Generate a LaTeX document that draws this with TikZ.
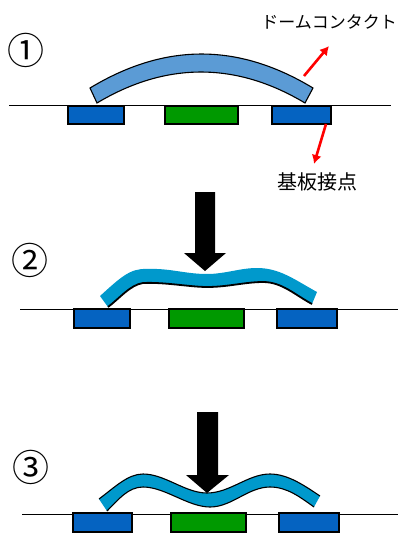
\documentclass[tikz,border=0pt]{standalone}
\usepackage{fontspec}
\setmainfont{Noto Sans CJK JP}
\usepackage{xcolor}
\usetikzlibrary{arrows.meta, positioning}
\definecolor{padblue}{HTML}{0563C1}
\definecolor{padgreen}{HTML}{009900}
\definecolor{domeblue}{HTML}{5B9BD5}
\definecolor{domecyan}{HTML}{0099CC}
\def\toptwo{(100,296) .. controls (120,278) and (130,268) .. (147,269) .. controls (170,268) and (185,274) .. (207,274) .. controls (225,274) and (240,268) .. (257,268) .. controls (280,268) and (295,280) .. (317,292)}
\def\bottwo{(108,307) .. controls (120,298) and (130,285) .. (143,283) .. controls (165,282) and (190,287) .. (207,287) .. controls (228,287) and (245,282) .. (263,282) .. controls (282,282) and (295,295) .. (312,304)}
\def\topthree{(99,499) .. controls (115,487) and (128,474) .. (143,474) .. controls (165,474) and (185,493) .. (207,493) .. controls (230,493) and (248,474) .. (270,474) .. controls (288,474) and (305,486) .. (320,496)}
\def\botthree{(107,511) .. controls (118,500) and (128,487) .. (143,487) .. controls (165,487) and (188,507) .. (210,507) .. controls (232,507) and (248,487) .. (270,487) .. controls (287,487) and (300,497) .. (314,507)}
\tikzset{
  baseline line/.style={black, line width=1pt},
  padbox/.style={draw=black, line width=1.1pt, fill=padblue},
  centerbox/.style={draw=black, line width=1.1pt, fill=padgreen},
  redarrow/.style={red, line width=2.6pt, -{Latex[length=9pt,width=10pt]}},
  pressarrow/.style={fill=black, draw=none},
  numlabel/.style={inner sep=0pt, font=\fontsize{37}{37}\selectfont},
  caption/.style={inner sep=0pt, font=\fontsize{17}{17}\selectfont}
}
\begin{document}
\begin{tikzpicture}[x=1pt, y=-1pt]
  \useasboundingbox (0,0) rectangle (398,533);
  % state 1
  \node[numlabel] (num1) at (26,50) {①};
  \draw[baseline line] (9,105.5) -- (391,105.5);
  \foreach \a/\b in {68/124, 272/331}
    \draw[padbox] (\a,106) rectangle (\b,124);
  \draw[centerbox] (165,106) rectangle (238,124);
  \draw[draw=black, line width=1.1pt, fill=domeblue] (90,88) .. controls (165,42.7) and (238,42.7) .. (313,88)
    -- (305,103) .. controls (236,61.7) and (166,61.7) .. (97,103) -- cycle;
  \node[caption] (dome) at (329,22) {ドームコンタクト};
  \node[caption, font=\fontsize{20}{20}\selectfont] (board) at (317,182) {基板接点};
  \coordinate (domeEnd) at (304,76);
  \coordinate (domeTip) at (329,46);
  \coordinate (padEnd) at (326,124);
  \coordinate (padTip) at (314,164);
  \draw[redarrow] (domeEnd) -- (domeTip);
  \draw[redarrow] (padEnd) -- (padTip);
  % state 2
  \node[numlabel] (num2) at (30,260) {②};
  \draw[baseline line] (20,309) -- (398,309);
  \foreach \a/\b in {74/130, 277/337}
    \draw[padbox] (\a,309) rectangle (\b,328);
  \draw[centerbox] (169,309) rectangle (244,328);
  \fill[pressarrow] (195,192) -- (215,192) -- (215,253) -- (226,253) -- (205,271) -- (184,253) -- (195,253) -- cycle;
  \fill[domecyan] \toptwo -- (312,304) .. controls (295,295) and (282,282) .. (263,282) .. controls (245,282) and (228,287) .. (207,287) .. controls (190,287) and (165,282) .. (143,283) .. controls (130,285) and (120,298) .. (108,307) -- cycle;
  \draw[black, line width=1.8pt] \bottwo;
  % state 3
  \node[numlabel] (num3) at (31,467) {③};
  \draw[baseline line] (22,514.5) -- (398,514.5);
  \foreach \a/\b in {73/132, 279/339}
    \draw[padbox] (\a,513) rectangle (\b,532);
  \draw[centerbox] (171,513) rectangle (246,532);
  \fill[pressarrow] (197,412) -- (218,412) -- (218,475) -- (229,475) -- (207,493) -- (186,475) -- (197,475) -- cycle;
  \fill[domecyan] \topthree -- (314,507) .. controls (300,497) and (287,487) .. (270,487) .. controls (248,487) and (232,507) .. (210,507) .. controls (188,507) and (165,487) .. (143,487) .. controls (128,487) and (118,500) .. (107,511) -- cycle;
  \draw[black, line width=1.1pt] \topthree;
  \draw[black, line width=1.1pt] \botthree;
\end{tikzpicture}
\end{document}
